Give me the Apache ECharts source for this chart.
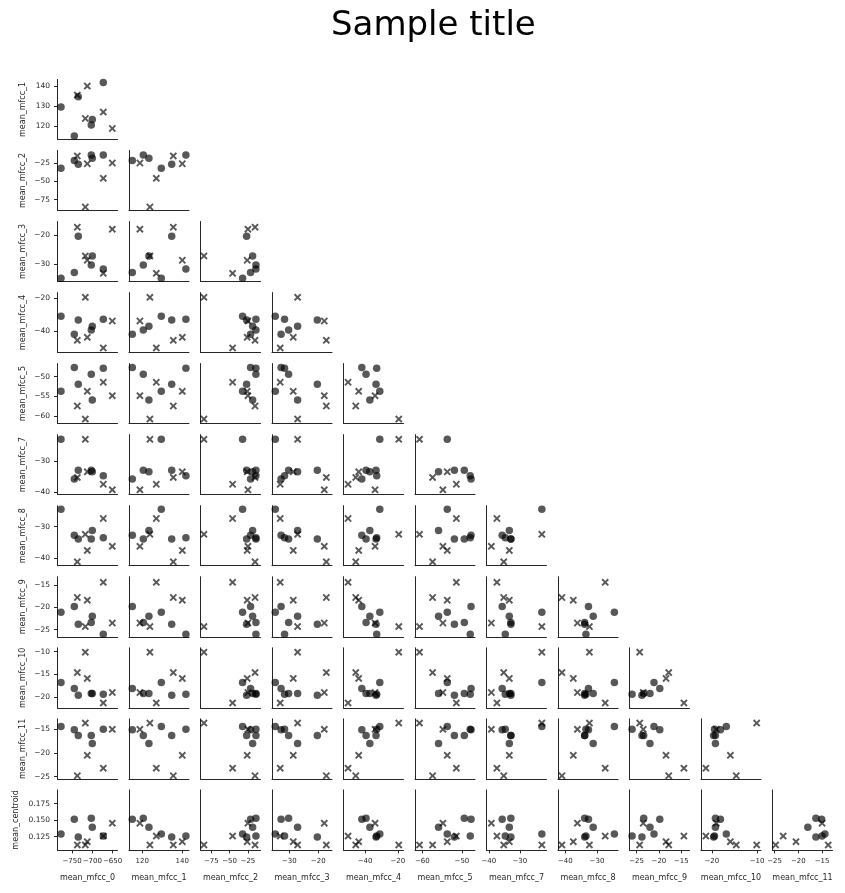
<!DOCTYPE html>
<html><head><meta charset="utf-8">
<script src="https://cdn.jsdelivr.net/npm/echarts@6.0.0/dist/echarts.min.js"></script>
<style>html,body{margin:0;padding:0;background:#fff}#c{width:845px;height:893px}</style>
</head><body><div id="c"></div>
<script>
// ---- data (one entry per sample) ----
const group    = ['o','o','x','o','x','x','o','o','o','x','x'];
const mfcc0    = [-777.1,-744.3,-736.9,-734.5,-717.2,-712.3,-702.5,-700,-672.9,-672.9,-650.7];
const mfcc1    = [129.5,115,135.5,134.7,123.8,140,120.5,123.3,141.8,127,118.8];
const mfcc2    = [-32.3,-21.4,-15.3,-26.8,-85,-26,-14.1,-18.6,-14.1,-45.9,-25];
const mfcc3    = [-34.8,-32.8,-17.2,-20.3,-27.1,-28.6,-30.2,-27.1,-31.6,-33.1,-17.9];
const mfcc4    = [-31,-42,-45.7,-33.3,-19.4,-43.9,-39.4,-37.1,-32.9,-50.4,-33.9];
const mfcc5    = [-53.7,-47.7,-57.4,-51.9,-60.7,-53.7,-49.4,-55.9,-47.9,-51.4,-54.8];
const mfcc7    = [-22.9,-35.7,-35.2,-32.9,-22.9,-33.4,-32.9,-33.4,-34.7,-37.4,-39.2];
const mfcc8    = [-24.5,-32.7,-41.1,-33.9,-32.4,-37.5,-33.9,-31.2,-33.5,-27.4,-36.2];
const mfcc9    = [-21.1,-19.8,-17.8,-23.8,-24.3,-18.4,-23.4,-22,-26,-14.4,-23.5];
const mfcc10   = [-16.8,-18.1,-14.6,-19.6,-10.1,-15.9,-19.2,-19.2,-19.4,-21.3,-19];
const mfcc11   = [-14.4,-15.1,-24.8,-16.3,-13.7,-20.5,-16.3,-18,-15,-23.2,-15];
const centroid = [0.129,0.1515,0.1125,0.1245,0.1125,0.1175,0.153,0.1395,0.126,0.126,0.1455];

const varNames = ['mean_mfcc_0','mean_mfcc_1','mean_mfcc_2','mean_mfcc_3','mean_mfcc_4','mean_mfcc_5',
                  'mean_mfcc_7','mean_mfcc_8','mean_mfcc_9','mean_mfcc_10','mean_mfcc_11','mean_centroid'];
const columns = [mfcc0,mfcc1,mfcc2,mfcc3,mfcc4,mfcc5,mfcc7,mfcc8,mfcc9,mfcc10,mfcc11,centroid];

// axis limits per variable
const limits = [[-785.7,-637.9],[113.35,143.35],[-89.7,-7.85],[-35.93,-15.24],[-53.2,-16.5],[-61.84,-46.7],
                [-40.76,-21.4],[-42.34,-23.35],[-26.58,-13.15],[-22.38,-9.14],[-25.45,-12.8],[0.105,0.196]];

// tick labels (x: columns 0..10, y: rows var 1..11)
const xTicks = [[-750,-700,-650],[120,140],[-75,-50,-25],[-30,-20],[-40,-20],[-60,-50],[-40,-30],[-40,-30],[-25,-20,-15],[-20,-10],[-25,-20,-15]];
const yTicks = [[120,130,140],[-75,-50,-25],[-30,-20],[-40,-20],[-60,-55,-50],[-40,-30],[-40,-30],[-25,-20,-15],[-20,-15,-10],[-25,-20,-15],[0.125,0.150,0.175]];

// ---- layout ----
const FONT = 'DejaVu Sans';
const TXT = '#262626';
const LEFT0 = 57.5, PITCHX = 71.5, TOP0 = 79.4, PITCHY = 71.05, W = 60, H = 60;

function fmt(v){let s=(Math.abs(v)<1&&v!==0)?v.toFixed(3):String(v);return s.replace('-','\u2212');}

const xPath = 'path://M0,1.8L1.8,0L5,3.2L8.2,0L10,1.8L6.8,5L10,8.2L8.2,10L5,6.8L1.8,10L0,8.2L3.2,5Z';
const MARK = 'rgba(0,0,0,0.82)';

const grids=[],xAxes=[],yAxes=[],series=[];
let k=0;
for(let r=0;r<11;r++){
  const yi=r+1;
  for(let c=0;c<=r;c++){
    grids.push({left:LEFT0+c*PITCHX, top:TOP0+r*PITCHY, width:W, height:H});
    const bottom = r===10, left = c===0;
    xAxes.push({
      gridIndex:k, type:'value', min:limits[c][0], max:limits[c][1],
      axisLine:{show:true,onZero:false,lineStyle:{color:TXT,width:1}},
      splitLine:{show:false},
      axisTick:{show:bottom,length:3.5,customValues:xTicks[c],lineStyle:{color:TXT,width:1}},
      axisLabel:{show:bottom,customValues:xTicks[c],formatter:fmt,fontSize:7,color:TXT,fontFamily:FONT,margin:7.5,
                 hideOverlap:false,showMinLabel:true,showMaxLabel:true},
      name: bottom?varNames[c]:'', nameLocation:'middle', nameGap:24,
      nameTextStyle:{fontSize:8,color:TXT,fontFamily:FONT}
    });
    yAxes.push({
      gridIndex:k, type:'value', min:limits[yi][0], max:limits[yi][1],
      axisLine:{show:true,onZero:false,lineStyle:{color:TXT,width:1}},
      splitLine:{show:false},
      axisTick:{show:left,length:3.5,customValues:yTicks[r],lineStyle:{color:TXT,width:1}},
      axisLabel:{show:left,customValues:yTicks[r],formatter:fmt,fontSize:7.5,color:TXT,fontFamily:FONT,margin:7.5,
                 hideOverlap:false,showMinLabel:true,showMaxLabel:true},
      name: left?varNames[yi]:'', nameLocation:'middle', nameGap: r===10?38:31,
      nameTextStyle:{fontSize:8,color:TXT,fontFamily:FONT}
    });
    const circ=[],xs=[];
    for(let i=0;i<group.length;i++){
      const pt=[columns[c][i],columns[yi][i]];
      (group[i]==='o'?circ:xs).push(pt);
    }
    series.push({type:'scatter',xAxisIndex:k,yAxisIndex:k,data:circ,symbol:'circle',symbolSize:7.5,
      itemStyle:{color:MARK},silent:true,clip:false});
    series.push({type:'scatter',xAxisIndex:k,yAxisIndex:k,data:xs,symbol:xPath,symbolSize:7.5,
      itemStyle:{color:MARK},silent:true,clip:false});
    k++;
  }
}

const chart=echarts.init(document.getElementById('c'),null,{renderer:'canvas'});
chart.setOption({
  animation:false,
  backgroundColor:'#fff',
  title:{text:'Sample title',left:326,top:4,textStyle:{fontSize:34,fontWeight:'normal',color:'#000',fontFamily:FONT}},
  grid:grids, xAxis:xAxes, yAxis:yAxes, series:series
});
</script></body></html>
